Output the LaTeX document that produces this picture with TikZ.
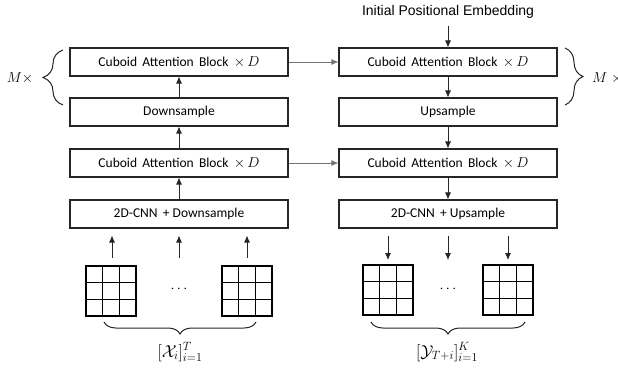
\documentclass[tikz,border=0pt]{standalone}
\usepackage{fontspec}
\setmainfont{Carlito}
\newfontfamily\arialfont{Liberation Sans}
\usetikzlibrary{arrows.meta,decorations.pathreplacing,calc}
\begin{document}
\begin{tikzpicture}[x=1pt,y=-1pt,
  blk/.style={draw=black!85,line width=1.1pt,minimum width=218pt,minimum height=28pt,inner sep=0pt,font=\fontsize{13.5}{15}\selectfont},
  arr/.style={draw=black!85,line width=0.8pt,-{Latex[length=7pt,width=6pt]}},
  garr/.style={draw=black!55,line width=0.9pt,-{Latex[length=7pt,width=6pt]}},
  gridbox/.style={draw=black,line width=1.2pt,minimum size=50pt,inner sep=0pt,
    path picture={
      \draw[line width=1.2pt] ($(path picture bounding box.north west)!1/3!(path picture bounding box.north east)$) -- ($(path picture bounding box.south west)!1/3!(path picture bounding box.south east)$);
      \draw[line width=1.2pt] ($(path picture bounding box.north west)!2/3!(path picture bounding box.north east)$) -- ($(path picture bounding box.south west)!2/3!(path picture bounding box.south east)$);
      \draw[line width=1.2pt] ($(path picture bounding box.north west)!1/3!(path picture bounding box.south west)$) -- ($(path picture bounding box.north east)!1/3!(path picture bounding box.south east)$);
      \draw[line width=1.2pt] ($(path picture bounding box.north west)!2/3!(path picture bounding box.south west)$) -- ($(path picture bounding box.north east)!2/3!(path picture bounding box.south east)$);
    }},
  brc/.style={draw=black!85,line width=1pt,decorate,decoration={brace,amplitude=#1}},
]
\useasboundingbox (0,0) rectangle (618,370);

% left column
\node[blk] (L1) at (179,62) {Cuboid\, Attention\, Block\, $\times\, D$};
\node[blk] (L2) at (179,112) {Downsample};
\node[blk] (L3) at (179,163) {Cuboid\, Attention\, Block\, $\times\, D$};
\node[blk] (L4) at (179,214) {2D-CNN\, + Downsample};

% right column
\node[blk] (R1) at (448,62) {Cuboid\, Attention\, Block\, $\times\, D$};
\node[blk] (R2) at (448,112) {Upsample};
\node[blk] (R3) at (448,163) {Cuboid\, Attention\, Block\, $\times\, D$};
\node[blk] (R4) at (448,214) {2D-CNN\, + Upsample};

\node[font=\arialfont\fontsize{14}{16}\selectfont,inner sep=1pt] (emb) at (448,12) {Initial Positional Embedding};

% vertical arrows
\draw[arr] (L4.north) -- (L3.south);
\draw[arr] (L3.north) -- (L2.south);
\draw[arr] (L2.north) -- (L1.south);
\draw[arr] ([yshift=-6pt]emb.south) -- (R1.north);
\draw[arr] (R1.south) -- (R2.north);
\draw[arr] (R2.south) -- (R3.north);
\draw[arr] (R3.south) -- (R4.north);

% skip arrows
\draw[garr] (L1.east) -- (R1.west);
\draw[garr] (L3.east) -- (R3.west);

% grids
\node[gridbox] (g1) at (111,291) {};
\node[gridbox] (g2) at (247,291) {};
\node[gridbox] (g3) at (388,290) {};
\node[gridbox] (g4) at (508,290) {};
\node[font=\Large] (d1) at (179,289) {$\cdots$};
\node[font=\Large] (d2) at (448,289) {$\cdots$};

\coordinate (a1) at (112,258);
\coordinate (a2) at (179,258);
\coordinate (a3) at (247,258);
\draw[arr] (a1) -- ([yshift=-7pt]a1 |- L4.south);
\draw[arr] (a2) -- ([yshift=-7pt]a2 |- L4.south);
\draw[arr] (a3) -- ([yshift=-7pt]a3 |- L4.south);

\coordinate (b1) at (388,260);
\coordinate (b2) at (448,260);
\coordinate (b3) at (508,260);
\draw[arr] ([yshift=-7pt]b1 |- R4.south) -- (b1);
\draw[arr] ([yshift=-7pt]b2 |- R4.south) -- (b2);
\draw[arr] ([yshift=-7pt]b3 |- R4.south) -- (b3);

% bottom braces and labels
\coordinate (bl1) at (104,322);
\coordinate (bl2) at (256,322);
\draw[brc=12pt] (bl2) -- (bl1);
\coordinate (br1) at (371,322);
\coordinate (br2) at (525,322);
\draw[brc=12pt] (br2) -- (br1);
\node[font=\LARGE,inner sep=0pt] (xl) at (180,352) {$[\mathcal{X}_i]_{i=1}^{T}$};
\node[font=\LARGE,inner sep=0pt] (yl) at (447,352) {$[\mathcal{Y}_{T+i}]_{i=1}^{K}$};

% M braces
\coordinate (ml1) at (63,105);
\coordinate (ml2) at (63,50);
\draw[brc=20pt] (ml1) -- (ml2);
\node[font=\Large] (ml) at (20,78) {$M\times$};
\coordinate (mr1) at (565,48);
\coordinate (mr2) at (565,105);
\draw[brc=18pt] (mr1) -- (mr2);
\node[font=\Large,anchor=west,inner sep=0pt] (mr) at (592,78) {$M\;\times$};
\end{tikzpicture}
\end{document}
